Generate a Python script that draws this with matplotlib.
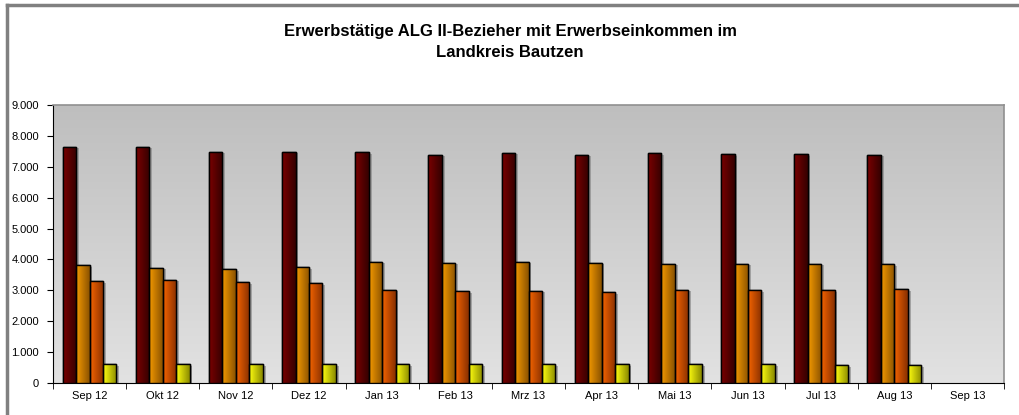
import numpy as np
import matplotlib
matplotlib.use("Agg")
import matplotlib.pyplot as plt
import matplotlib.patheffects as pe
from matplotlib.colors import LinearSegmentedColormap
from matplotlib.ticker import FuncFormatter, FixedLocator

monate = ["Sep 12", "Okt 12", "Nov 12", "Dez 12", "Jan 13", "Feb 13", "Mrz 13",
          "Apr 13", "Mai 13", "Jun 13", "Jul 13", "Aug 13", "Sep 13"]

# values (Sep 13 has no data)
serie_1 = [7640, 7640, 7480, 7480, 7465, 7380, 7455, 7380, 7430, 7410, 7410, 7380, np.nan]
serie_2 = [3805, 3730, 3675, 3740, 3915, 3885, 3915, 3885, 3860, 3850, 3850, 3840, np.nan]
serie_3 = [3290, 3340, 3265, 3225, 3010, 2965, 2975, 2930, 3010, 3000, 3000, 3030, np.nan]
serie_4 = [600, 600, 600, 600, 600, 600, 600, 600, 600, 600, 570, 570, np.nan]

# gradient colours (left -> right) for each series
farben = [("#7a0000", "#350000"),
          ("#f59a00", "#8a5200"),
          ("#f56400", "#883000"),
          ("#ffff10", "#8a8a00")]

plt.rcParams["font.family"] = ["Liberation Sans", "DejaVu Sans"]

fig = plt.figure(figsize=(10.2, 4.15), dpi=100)
ax = fig.add_axes([53 / 1020, 1 - 383 / 415, (1004 - 53) / 1020, (383 - 105) / 415])

# outer frame (only left and top visible)
fig.add_artist(plt.Line2D([7 / 1020, 7 / 1020], [0, 1 - 5 / 415], color="#808080", lw=2.5,
                          transform=fig.transFigure))
fig.add_artist(plt.Line2D([7 / 1020, 1], [1 - 5 / 415, 1 - 5 / 415], color="#808080", lw=2.5,
                          transform=fig.transFigure))

# plot area gradient
grad = np.linspace(0, 1, 256).reshape(-1, 1)
bg = LinearSegmentedColormap.from_list("bg", ["#bebebe", "#e2e2e2"])
ax.imshow(grad, cmap=bg, extent=[0, 1, 0, 1], transform=ax.transAxes,
          aspect="auto", zorder=0)

x = np.arange(len(monate))
breite = 0.184
serien = [serie_1, serie_2, serie_3, serie_4]
hgrad = np.linspace(0, 1, 64).reshape(1, -1)

for i, werte in enumerate(serien):
    pos = x + (i - 1.5) * breite
    bars = ax.bar(pos, werte, breite, color=farben[i][0], edgecolor="black", linewidth=1.0,
                  zorder=2,
                  path_effects=[pe.SimplePatchShadow(offset=(2, -1), shadow_rgbFace="#808080",
                                                     alpha=0.6), pe.Normal()])
    cmap = LinearSegmentedColormap.from_list("c%d" % i, farben[i])
    for b in bars:
        h = b.get_height()
        if np.isnan(h):
            continue
        im = ax.imshow(hgrad, cmap=cmap, aspect="auto", zorder=3,
                       extent=[b.get_x(), b.get_x() + b.get_width(), 0, h])
        im.set_clip_path(b)
        ax.bar(b.get_x() + b.get_width() / 2, h, b.get_width(), fill=False,
               edgecolor="black", linewidth=1.0, zorder=4)

ax.set_xlim(-0.5, len(monate) - 0.5)
ax.set_ylim(0, 9000)
ax.set_xticks(x)
ax.set_xticklabels(monate, fontsize=8)
ax.xaxis.set_minor_locator(FixedLocator(np.arange(-0.5, len(monate), 1)))
ax.tick_params(axis="x", which="major", length=0, pad=6)
ax.tick_params(axis="x", which="minor", length=4, direction="out", color="black")
ax.set_yticks(np.arange(0, 9001, 1000))
ax.yaxis.set_major_formatter(FuncFormatter(lambda v, p: f"{int(v):,}".replace(",", ".")))
ax.tick_params(axis="y", length=4, direction="out", labelsize=8, pad=6)

ax.spines["left"].set_color("black")
ax.spines["bottom"].set_color("black")
ax.spines["top"].set_color("#909090")
ax.spines["right"].set_color("#909090")
ax.spines["top"].set_linewidth(1.2)
ax.spines["right"].set_linewidth(1.2)

fig.text(0.5, 1 - 42 / 415, "Erwerbstätige ALG II-Bezieher mit Erwerbseinkommen im\nLandkreis Bautzen",
         ha="center", va="center", fontsize=12, fontweight="bold", linespacing=1.45)

fig.savefig("out.png", dpi=100)
